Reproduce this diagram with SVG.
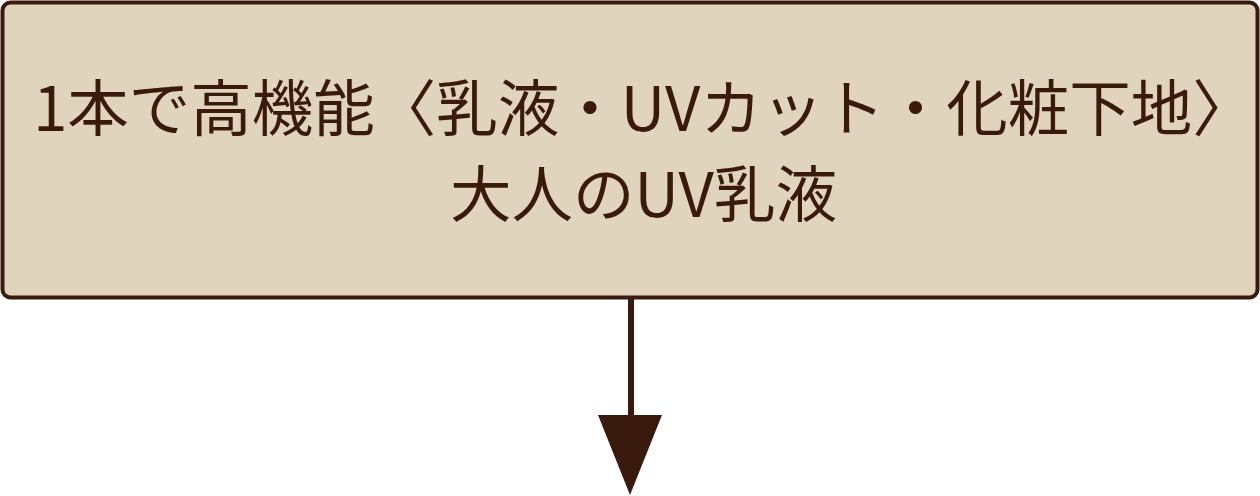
<svg xmlns="http://www.w3.org/2000/svg" width="1260" height="496" viewBox="0 0 1260 496">
<style>
.box{fill:#E0D4BE;stroke:#3A1A0C;stroke-width:4}
.lbl{font-family:"Noto Sans CJK JP","Noto Sans",sans-serif;font-size:61.5px;fill:#3A1A0C;text-anchor:middle}
.edge{stroke:#3A1A0C;stroke-width:6;fill:none}
.head{fill:#3A1A0C}
</style>
<g id="node1">
<rect class="box" x="2.5" y="2.5" width="1255" height="295" rx="8" ry="8"/>
<text class="lbl" x="643.5" y="131">1本で高機能〈乳液・UVカット・化粧下地〉</text>
<text class="lbl" x="643.5" y="217">大人のUV乳液</text>
</g>
<g id="connectors">
<line class="edge" x1="631" y1="299" x2="631" y2="416"/>
<polygon class="head" points="598,415 662,415 630,495"/>
</g>
</svg>
